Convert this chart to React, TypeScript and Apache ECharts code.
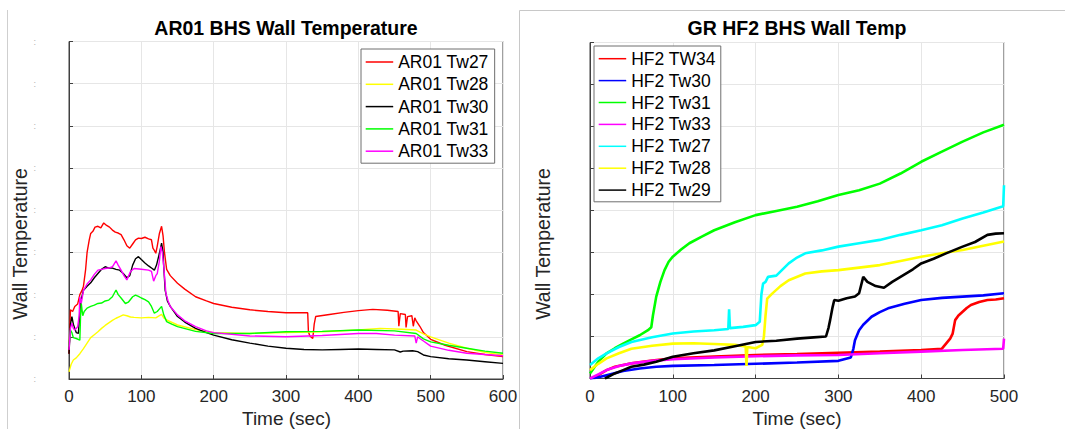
import React, { useEffect, useRef } from "react";
import * as echarts from "echarts";

// ---- Left panel: AR01 BHS Wall Temperature (time sec, value in grid units) ----
const AR01_TW27: [number, number][] = [[0,0.6],[2,1.64],[5,1.6],[8,1.72],[12,1.78],[15,2.0],[18,2.1],[20,2.2],[23,2.6],[25,3.0],[28,3.3],[30,3.45],[33,3.5],[36,3.6],[40,3.62],[44,3.58],[48,3.7],[52,3.64],[56,3.6],[60,3.53],[64,3.48],[68,3.46],[72,3.42],[76,3.3],[80,3.16],[84,3.1],[88,3.2],[92,3.3],[96,3.34],[100,3.33],[105,3.36],[110,3.32],[114,3.3],[116,3.1],[118,3.05],[120,2.98],[122,3.15],[125,3.45],[128,3.62],[130,3.4],[132,3.0],[135,2.6],[140,2.45],[150,2.27],[160,2.13],[175,1.95],[190,1.85],[200,1.79],[225,1.7],[250,1.64],[275,1.6],[300,1.57],[330,1.57],[331,1.12],[333,1.02],[337,0.96],[339,1.3],[341,1.48],[360,1.53],[380,1.58],[400,1.62],[420,1.65],[440,1.63],[455,1.6],[456,1.25],[458,1.55],[465,1.53],[466,1.22],[468,1.48],[474,1.5],[476,1.25],[478,1.45],[480,1.38],[485,1.25],[490,1.1],[500,0.94],[520,0.8],[550,0.65],[575,0.58],[600,0.53]];
const AR01_TW28: [number, number][] = [[0,0.17],[3,0.35],[6,0.45],[10,0.5],[15,0.6],[20,0.72],[25,0.85],[30,0.98],[35,1.05],[40,1.12],[45,1.2],[50,1.27],[55,1.33],[60,1.39],[65,1.44],[70,1.48],[75,1.52],[80,1.5],[85,1.47],[90,1.46],[100,1.45],[110,1.46],[120,1.45],[125,1.5],[128,1.53],[131,1.45],[135,1.4],[150,1.28],[175,1.17],[200,1.1],[250,1.08],[300,1.1],[350,1.12],[400,1.16],[430,1.2],[460,1.18],[480,1.16],[490,1.07],[500,1.0],[525,0.85],[550,0.73],[575,0.63],[600,0.57]];
const AR01_TW30: [number, number][] = [[0,0.6],[2,1.3],[4,1.48],[6,1.3],[8,1.2],[10,1.1],[13,1.08],[15,1.6],[17,1.9],[20,2.1],[25,2.2],[30,2.28],[35,2.4],[40,2.5],[45,2.6],[50,2.66],[55,2.63],[60,2.63],[65,2.6],[70,2.58],[75,2.5],[80,2.4],[84,2.45],[88,2.7],[92,2.85],[96,2.9],[100,2.83],[105,2.75],[110,2.68],[115,2.62],[118,2.58],[121,2.7],[125,2.98],[128,3.22],[130,3.0],[131,2.66],[133,2.1],[136,1.85],[140,1.72],[150,1.48],[160,1.35],[175,1.2],[190,1.1],[200,1.04],[225,0.93],[250,0.85],[275,0.78],[300,0.73],[325,0.7],[350,0.69],[375,0.7],[400,0.71],[425,0.7],[450,0.69],[458,0.64],[462,0.66],[475,0.67],[482,0.65],[490,0.57],[500,0.53],[525,0.48],[550,0.45],[575,0.41],[600,0.37]];
const AR01_TW31: [number, number][] = [[0,0.77],[2,1.16],[4,1.1],[6,0.98],[10,0.96],[15,0.92],[16,1.5],[17,1.79],[19,1.5],[21,1.6],[25,1.68],[30,1.72],[35,1.75],[40,1.79],[45,1.8],[50,1.85],[55,1.87],[60,1.95],[65,2.11],[68,2.0],[72,1.92],[78,1.79],[82,1.82],[88,1.95],[92,1.99],[96,1.96],[100,1.92],[105,1.88],[110,1.83],[114,1.72],[118,1.56],[122,1.6],[126,1.68],[128,1.72],[131,1.52],[135,1.36],[142,1.3],[150,1.24],[175,1.13],[200,1.08],[235,1.08],[250,1.08],[300,1.12],[350,1.13],[400,1.16],[450,1.14],[480,1.08],[490,0.95],[500,0.88],[525,0.8],[550,0.73],[575,0.66],[600,0.61]];
const AR01_TW33: [number, number][] = [[0,0.69],[2,1.2],[4,1.32],[6,1.2],[8,1.16],[12,1.24],[14,1.5],[15,1.95],[17,1.8],[20,2.1],[25,2.25],[30,2.35],[35,2.48],[40,2.58],[45,2.6],[50,2.62],[55,2.63],[60,2.66],[65,2.8],[68,2.7],[72,2.58],[76,2.45],[80,2.35],[85,2.55],[90,2.62],[100,2.6],[110,2.58],[114,2.55],[117,2.32],[120,2.45],[122,2.5],[125,2.8],[127,3.14],[129,3.0],[131,2.66],[134,2.03],[137,1.85],[140,1.72],[150,1.52],[160,1.38],[175,1.24],[190,1.14],[200,1.1],[250,1.02],[300,1.0],[350,1.03],[400,1.08],[425,1.08],[450,1.04],[478,1.02],[480,0.85],[482,1.0],[485,0.96],[490,0.9],[500,0.78],[525,0.68],[550,0.61],[575,0.58],[600,0.55]];

// ---- Right panel: GR HF2 BHS Wall Temp ----
const HF2_TW34: [number, number][] = [[5,0],[10,0.08],[20,0.2],[30,0.28],[50,0.36],[75,0.43],[100,0.48],[150,0.52],[200,0.56],[250,0.58],[300,0.61],[350,0.64],[400,0.68],[425,0.71],[430,0.83],[435,0.95],[438,1.07],[441,1.39],[445,1.5],[450,1.59],[455,1.68],[460,1.75],[470,1.82],[480,1.87],[490,1.88],[500,1.91]];
const HF2_TW30: [number, number][] = [[0,0],[10,0.03],[20,0.08],[40,0.18],[60,0.24],[80,0.28],[100,0.3],[150,0.32],[200,0.35],[250,0.38],[300,0.42],[315,0.5],[318,0.7],[320,0.91],[325,1.15],[330,1.28],[340,1.47],[350,1.58],[360,1.67],[380,1.78],[400,1.87],[425,1.92],[450,1.95],[475,1.98],[500,2.03]];
const HF2_TW31: [number, number][] = [[0,0.12],[10,0.4],[20,0.6],[30,0.72],[40,0.83],[50,0.93],[60,1.03],[70,1.15],[74,1.22],[76,1.5],[80,1.95],[85,2.3],[90,2.58],[95,2.78],[100,2.9],[110,3.07],[120,3.22],[135,3.38],[150,3.53],[175,3.72],[200,3.89],[225,3.99],[250,4.09],[275,4.22],[300,4.37],[325,4.48],[350,4.64],[375,4.88],[400,5.16],[425,5.4],[450,5.64],[475,5.86],[500,6.04]];
const HF2_TW33: [number, number][] = [[0,0],[10,0.1],[20,0.2],[35,0.3],[50,0.36],[75,0.42],[100,0.46],[150,0.5],[200,0.53],[250,0.55],[300,0.56],[350,0.6],[400,0.64],[450,0.68],[499,0.71],[500,0.95]];
const HF2_TW27: [number, number][] = [[0,0.32],[10,0.48],[20,0.6],[35,0.75],[50,0.87],[75,0.98],[100,1.07],[125,1.12],[150,1.15],[167,1.18],[168,1.65],[169,1.2],[185,1.23],[200,1.27],[205,1.35],[207,2.0],[209,2.26],[212,2.3],[215,2.42],[225,2.45],[240,2.74],[250,2.88],[260,2.98],[280,3.05],[300,3.14],[325,3.22],[350,3.3],[375,3.42],[400,3.53],[425,3.65],[450,3.81],[475,3.95],[499,4.1],[500,4.6]];
const HF2_TW28: [number, number][] = [[0,0.2],[10,0.35],[20,0.48],[35,0.6],[50,0.71],[75,0.78],[100,0.83],[125,0.84],[150,0.82],[175,0.8],[188,0.76],[189,0.3],[190,0.75],[200,0.72],[208,0.8],[210,0.99],[212,1.5],[214,1.9],[220,2.02],[230,2.2],[240,2.34],[260,2.5],[280,2.55],[300,2.58],[325,2.64],[350,2.7],[375,2.8],[400,2.9],[425,2.98],[450,3.06],[475,3.16],[500,3.26]];
const HF2_TW29: [number, number][] = [[18,0],[30,0.12],[40,0.2],[50,0.28],[65,0.33],[80,0.4],[100,0.52],[125,0.6],[150,0.67],[175,0.77],[200,0.87],[225,0.9],[250,0.95],[270,0.98],[285,1.0],[288,1.2],[290,1.39],[293,1.7],[295,1.87],[300,1.85],[310,1.91],[320,1.95],[325,2.03],[330,2.42],[335,2.3],[345,2.2],[355,2.16],[365,2.3],[375,2.42],[390,2.6],[400,2.74],[415,2.85],[430,2.98],[450,3.14],[465,3.25],[480,3.42],[490,3.45],[500,3.46]];

const LEFT_TITLE = "AR01 BHS Wall Temperature";
const RIGHT_TITLE = "GR HF2 BHS Wall Temp";
const X_NAME = "Time (sec)";
const Y_NAME = "Wall Temperature";
const LEFT_X_MAX = 600;
const RIGHT_X_MAX = 500;

const LEFT_SERIES = [
  { name: "AR01 Tw27", color: "#ff0000", data: AR01_TW27 },
  { name: "AR01 Tw28", color: "#ffff00", data: AR01_TW28 },
  { name: "AR01 Tw30", color: "#000000", data: AR01_TW30 },
  { name: "AR01 Tw31", color: "#00ff00", data: AR01_TW31 },
  { name: "AR01 Tw33", color: "#ff00ff", data: AR01_TW33 },
];
const RIGHT_SERIES = [
  { name: "HF2 TW34", color: "#ff0000", data: HF2_TW34 },
  { name: "HF2 Tw30", color: "#0000ff", data: HF2_TW30 },
  { name: "HF2 Tw31", color: "#00ff00", data: HF2_TW31 },
  { name: "HF2 Tw33", color: "#ff00ff", data: HF2_TW33 },
  { name: "HF2 Tw27", color: "#00ffff", data: HF2_TW27 },
  { name: "HF2 Tw28", color: "#ffff00", data: HF2_TW28 },
  { name: "HF2 Tw29", color: "#000000", data: HF2_TW29 },
];

const FONT = "'Liberation Sans', Arial, Helvetica, sans-serif";
const AXIS_COLOR = "#404040";
const GRID_COLOR = "#e6e6e6";

function xAxisCfg(gridIndex: number, max: number) {
  return {
    type: "value",
    gridIndex,
    min: 0,
    max,
    interval: 100,
    axisLine: { show: true, lineStyle: { color: AXIS_COLOR, width: 1 } },
    axisTick: { show: true, inside: true, length: 4, lineStyle: { color: AXIS_COLOR } },
    axisLabel: { show: true, color: "#262626", fontSize: 17, fontFamily: FONT, margin: 9 },
    splitLine: { show: true, lineStyle: { color: GRID_COLOR, width: 1 } },
  };
}

function yAxisCfg(gridIndex: number, showDots: boolean) {
  return {
    type: "value",
    gridIndex,
    min: 0,
    max: 8,
    interval: 1,
    axisLine: { show: true, lineStyle: { color: AXIS_COLOR, width: 1 } },
    axisTick: { show: true, inside: true, length: 4, lineStyle: { color: AXIS_COLOR } },
    axisLabel: showDots
      ? { show: true, formatter: () => ":", color: "#b0b0b0", fontSize: 9, fontFamily: FONT, margin: 33 }
      : { show: false },
    splitLine: { show: true, lineStyle: { color: GRID_COLOR, width: 1 } },
  };
}

function legendCfg(names: string[], left: number, top: number, gap: number, padding: number[]) {
  return {
    show: true,
    orient: "vertical",
    left,
    top,
    data: names,
    icon: "rect",
    itemWidth: 27.5,
    itemHeight: 1.5,
    itemGap: gap,
    padding,
    borderColor: "#6e6e6e",
    borderWidth: 1,
    borderRadius: 0,
    backgroundColor: "#ffffff",
    selectedMode: false,
    textStyle: { color: "#000000", fontSize: 17.5, fontFamily: FONT, lineHeight: 20 },
  };
}

export default function App() {
  const ref = useRef<HTMLDivElement>(null);

  useEffect(() => {
    if (!ref.current) return;
    const chart = echarts.init(ref.current, undefined, { renderer: "svg" });

    const series: any[] = [];
    LEFT_SERIES.forEach((s) =>
      series.push({
        type: "line",
        name: s.name,
        xAxisIndex: 0,
        yAxisIndex: 0,
        data: s.data,
        symbol: "none",
        showSymbol: false,
        lineStyle: { color: s.color, width: 1.4 },
        itemStyle: { color: s.color },
        clip: true,
      })
    );
    RIGHT_SERIES.forEach((s) =>
      series.push({
        type: "line",
        name: s.name,
        xAxisIndex: 1,
        yAxisIndex: 1,
        data: s.data,
        symbol: "none",
        showSymbol: false,
        lineStyle: { color: s.color, width: 2.6 },
        itemStyle: { color: s.color },
        clip: true,
      })
    );

    const textEl = (text: string, x: number, y: number, size: number, bold: boolean, rotate = 0) => ({
      type: "text",
      x,
      y,
      rotation: rotate,
      silent: true,
      style: {
        text,
        fill: bold ? "#000000" : "#262626",
        font: `${bold ? "bold " : ""}${size}px ${FONT}`,
        textAlign: "center",
        textVerticalAlign: "middle",
        align: "center",
        verticalAlign: "middle",
      },
    });

    chart.setOption({
      animation: false,
      backgroundColor: "#ffffff",
      grid: [
        { left: 69, top: 41.5, width: 434, height: 337.5, show: true, borderColor: AXIS_COLOR, borderWidth: 1, backgroundColor: "#ffffff" },
        { left: 590, top: 42.5, width: 414, height: 336, show: true, borderColor: AXIS_COLOR, borderWidth: 1, backgroundColor: "#ffffff" },
      ],
      xAxis: [xAxisCfg(0, LEFT_X_MAX), xAxisCfg(1, RIGHT_X_MAX)],
      yAxis: [yAxisCfg(0, true), yAxisCfg(1, false)],
      legend: [
        legendCfg(LEFT_SERIES.map((s) => s.name), 361, 49, 2.3, [3, 6, 2, 4.7]),
        legendCfg(RIGHT_SERIES.map((s) => s.name), 594, 46, 1.9, [2.7, 5, 1.7, 4.7]),
      ],
      graphic: [
        { type: "line", silent: true, shape: { x1: 7.5, y1: 10, x2: 7.5, y2: 429 }, style: { stroke: "#cfcfcf", lineWidth: 1 } },
        { type: "line", silent: true, shape: { x1: 519.5, y1: 10.5, x2: 1065, y2: 10.5 }, style: { stroke: "#c8c8c8", lineWidth: 1 } },
        { type: "line", silent: true, shape: { x1: 519.5, y1: 10.5, x2: 519.5, y2: 429 }, style: { stroke: "#c8c8c8", lineWidth: 1 } },
        textEl(LEFT_TITLE, 286, 28, 19.5, true),
        textEl(RIGHT_TITLE, 797, 28, 19.5, true),
        textEl(X_NAME, 286.5, 418, 19, false),
        textEl(X_NAME, 797, 418, 19, false),
        textEl(Y_NAME, 20, 244, 19.5, false, Math.PI / 2),
        textEl(Y_NAME, 542.5, 244, 19.5, false, Math.PI / 2),
      ],
      series,
    });

    return () => chart.dispose();
  }, []);

  return (
    <div
      ref={ref}
      style={{ position: "absolute", left: 0, top: 0, width: 1065, height: 429 }}
    />
  );
}
